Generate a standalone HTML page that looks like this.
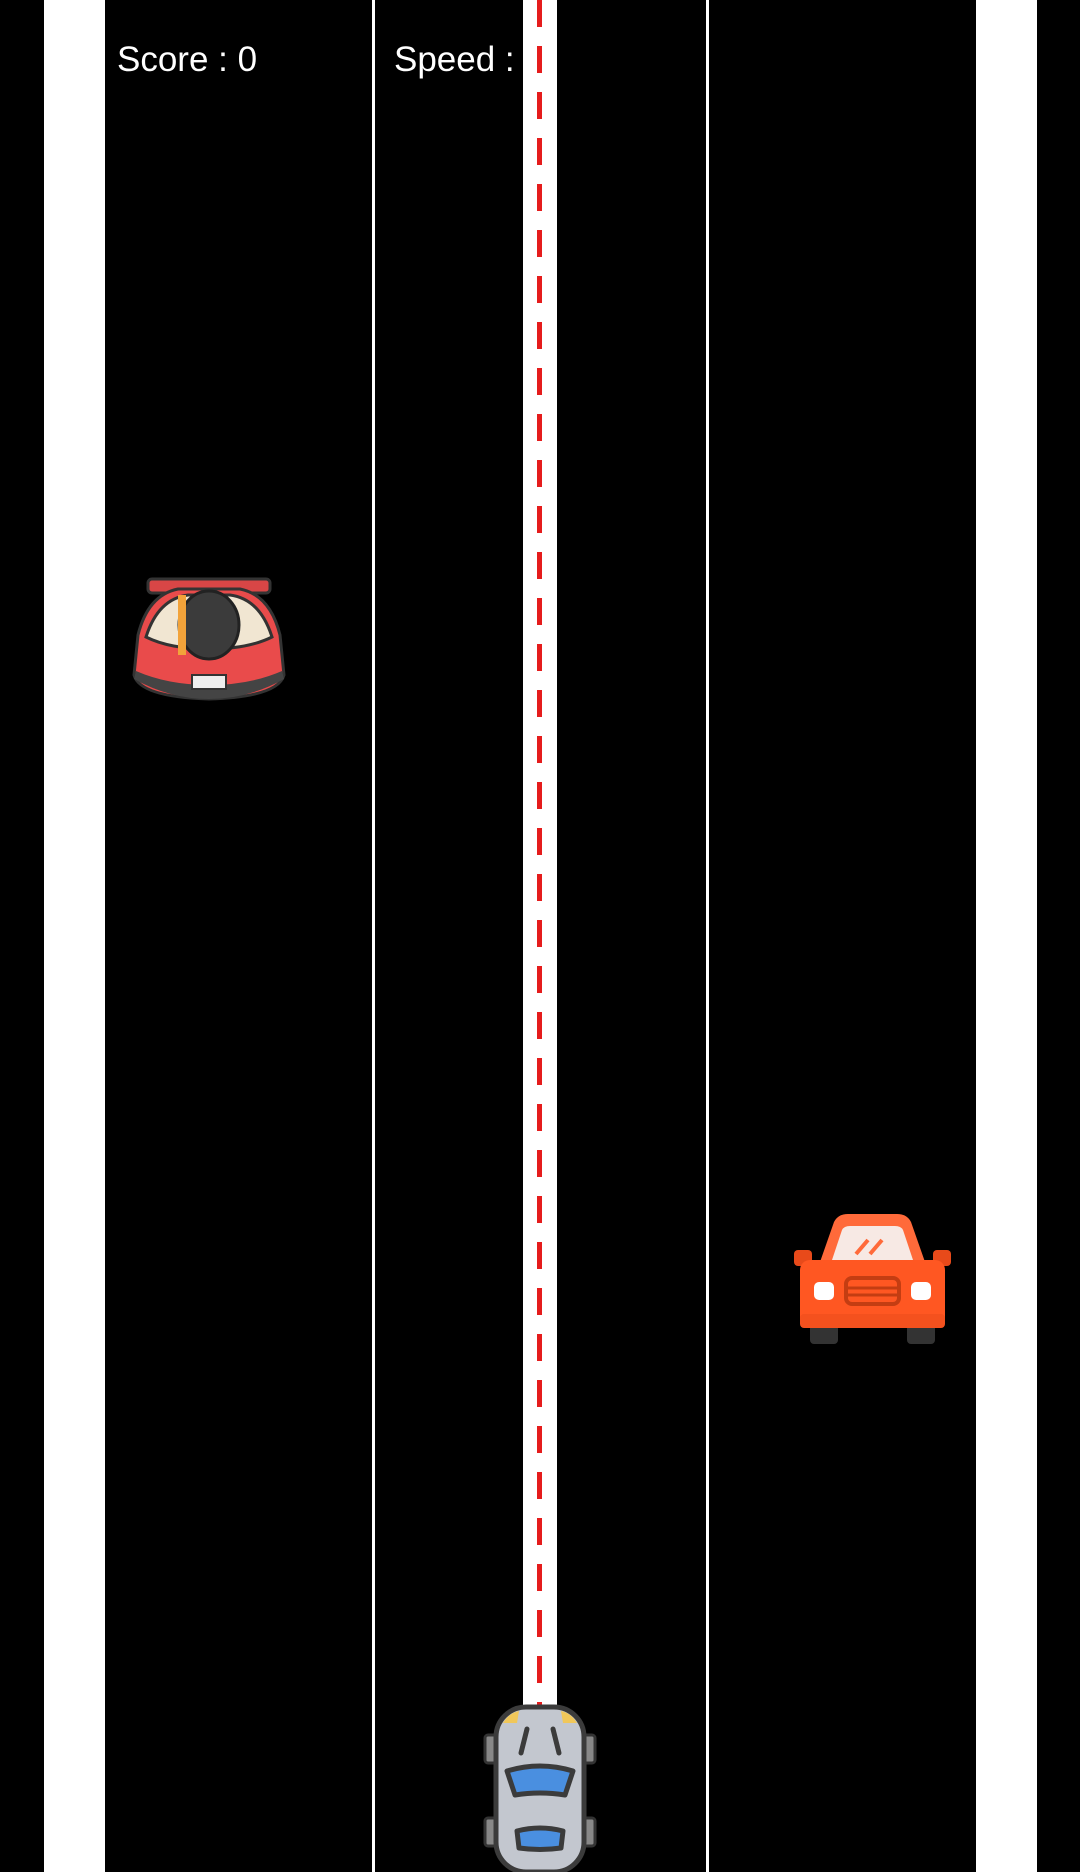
<!DOCTYPE html>
<html><head><meta charset="utf-8"><style>
html,body{margin:0;padding:0;background:#000;}
#s{position:relative;width:1080px;height:1872px;background:#000;overflow:hidden;font-family:"Liberation Sans",sans-serif;}
.b{position:absolute;top:0;height:1872px;}
.t{position:absolute;color:#fff;font-size:35px;top:40px;}
</style></head><body><div id="s">
<div class="b" style="left:44px;width:61px;background:#fff"></div>
<div class="b" style="left:976px;width:61px;background:#fff"></div>
<div class="b" style="left:372px;width:3px;background:#fff"></div>
<div class="b" style="left:706px;width:3px;background:#fff"></div>
<div class="b" style="left:523px;width:34px;height:1708px;background:#fff"></div>
<div class="b" style="left:537px;width:5px;height:1708px;background:repeating-linear-gradient(to bottom,#e51c1c 0 27px,transparent 27px 46px)"></div>
<div class="t" style="left:117px">Score : 0</div>
<div class="t" style="left:394px">Speed :</div>

<!-- sports car -->
<svg style="position:absolute;left:128px;top:575px" width="162" height="127" viewBox="0 0 162 127">
<rect x="20" y="4" width="122" height="14" rx="4" fill="#d84646" stroke="#333" stroke-width="3"/>
<path d="M10 60 Q20 20 50 14 L112 14 Q142 20 152 60 L156 100 Q150 122 81 124 Q12 122 6 100 Z" fill="#e94b4b" stroke="#333" stroke-width="3"/>
<path d="M18 62 Q30 24 60 20 L102 20 Q132 24 144 62 Q120 74 81 74 Q42 74 18 62Z" fill="#f1e6d2" stroke="#333" stroke-width="3"/>
<ellipse cx="81" cy="50" rx="30" ry="34" fill="#3b3b3b" stroke="#222" stroke-width="3"/>
<rect x="50" y="20" width="8" height="60" fill="#f2a33a"/>
<path d="M8 96 Q40 110 81 110 Q122 110 154 96 L156 104 Q120 124 81 124 Q42 124 6 104Z" fill="#444"/>
<rect x="64" y="100" width="34" height="14" fill="#eee" stroke="#333" stroke-width="2"/>
</svg>

<!-- orange car -->
<svg style="position:absolute;left:794px;top:1214px" width="157" height="130" viewBox="0 0 157 130">
<rect x="16" y="100" width="28" height="30" rx="4" fill="#333"/>
<rect x="113" y="100" width="28" height="30" rx="4" fill="#333"/>
<rect x="0" y="36" width="18" height="16" rx="4" fill="#e84a1a"/>
<rect x="139" y="36" width="18" height="16" rx="4" fill="#e84a1a"/>
<path d="M26 48 L40 8 Q44 0 54 0 L103 0 Q113 0 117 8 L131 48 Z" fill="#ff6a3a"/>
<path d="M38 46 L48 16 Q50 12 56 12 L101 12 Q107 12 109 16 L119 46Z" fill="#f7e9e4"/>
<path d="M62 40 L74 26 M76 40 L88 26" stroke="#ff6a3a" stroke-width="4"/>
<rect x="6" y="46" width="145" height="68" rx="10" fill="#ff5722"/>
<rect x="6" y="100" width="145" height="14" rx="4" fill="#f4511e"/>
<rect x="20" y="68" width="20" height="18" rx="5" fill="#fff"/>
<rect x="117" y="68" width="20" height="18" rx="5" fill="#fff"/>
<rect x="52" y="64" width="53" height="26" rx="6" fill="none" stroke="#c43d12" stroke-width="4"/>
<path d="M54 74 H103 M54 81 H103" stroke="#c43d12" stroke-width="3"/>
</svg>

<!-- player car -->
<svg style="position:absolute;left:483px;top:1703px" width="114" height="169" viewBox="0 0 114 169">
<rect x="2" y="32" width="12" height="28" rx="3" fill="#888" stroke="#333" stroke-width="3"/>
<rect x="100" y="32" width="12" height="28" rx="3" fill="#888" stroke="#333" stroke-width="3"/>
<rect x="2" y="115" width="12" height="28" rx="3" fill="#888" stroke="#333" stroke-width="3"/>
<rect x="100" y="115" width="12" height="28" rx="3" fill="#888" stroke="#333" stroke-width="3"/>
<rect x="13" y="4" width="88" height="165" rx="30" fill="#c3c7cf" stroke="#3b3b3b" stroke-width="5"/>
<path d="M20 20 Q26 10 36 8 L34 20Z M94 20 Q88 10 78 8 L80 20Z" fill="#f0c75a"/>
<path d="M44 26 L38 50 M70 26 L76 50" stroke="#3b3b3b" stroke-width="5" stroke-linecap="round"/>
<path d="M24 68 Q57 58 90 68 L82 92 Q57 88 32 92Z" fill="#4a8fe0" stroke="#3b3b3b" stroke-width="5" stroke-linejoin="round"/>
<path d="M34 128 Q57 122 80 128 L78 145 Q57 148 36 145Z" fill="#4a8fe0" stroke="#3b3b3b" stroke-width="5" stroke-linejoin="round"/>
</svg>
</div></body></html>
